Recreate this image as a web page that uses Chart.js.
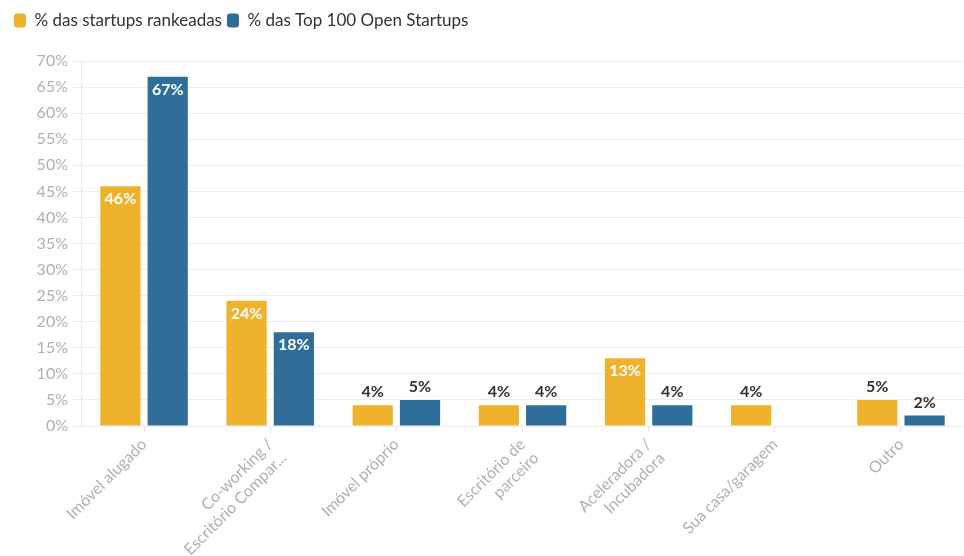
<!DOCTYPE html>
<html>
<head>
<meta charset="utf-8">
<script src="https://cdn.jsdelivr.net/npm/chart.js@4/dist/chart.umd.min.js"></script>
<style>
  html, body { margin: 0; padding: 0; background: #ffffff; }
  #wrap { width: 964px; height: 556px; position: relative; }
</style>
</head>
<body>
<div id="wrap"><canvas id="chart"></canvas></div>
<script>
// Local de trabalho das startups
const categories = [
  'Imóvel alugado',
  ['Co-working /', 'Escritório Compar...'],
  'Imóvel próprio',
  ['Escritório de', 'parceiro'],
  ['Aceleradora /', 'Incubadora'],
  'Sua casa/garagem',
  'Outro'
];
const seriesNames = ['% das startups rankeadas', '% das Top 100 Open Startups'];
const rankeadas = [46, 24, 4, 4, 13, 4, 5];
const top100 = [67, 18, 5, 4, 4, 0, 2];
const yTicks = [0, 5, 10, 15, 20, 25, 30, 35, 40, 45, 50, 55, 60, 65, 70];

const YELLOW = '#EEB22D';
const BLUE = '#2F6E99';

// Value labels: inside the top of tall bars, above short ones
const valueLabels = {
  id: 'valueLabels',
  afterDatasetsDraw(chart) {
    const ctx = chart.ctx;
    ctx.save();
    ctx.font = 'bold 16px Lato';
    ctx.textAlign = 'center';
    chart.data.datasets.forEach((ds, i) => {
      const meta = chart.getDatasetMeta(i);
      meta.data.forEach((bar, j) => {
        const v = ds.data[j];
        if (!v) return;
        const txt = v + '%';
        if (v >= 10) {
          ctx.fillStyle = '#ffffff';
          ctx.textBaseline = 'top';
          ctx.fillText(txt, bar.x, bar.y + 5);
        } else {
          ctx.fillStyle = '#333333';
          ctx.textBaseline = 'bottom';
          ctx.fillText(txt, bar.x, bar.y - 5);
        }
      });
    });
    ctx.restore();
  }
};

// Extra room between the legend and the plot
const legendSpace = {
  id: 'legendSpace',
  beforeInit(chart) {
    const legend = chart.legend;
    const fit = legend.fit;
    legend.fit = function () {
      fit.call(this);
      this.height = 54;
    };
  }
};

new Chart(document.getElementById('chart'), {
  type: 'bar',
  data: {
    labels: categories,
    datasets: [
      { label: seriesNames[0], data: rankeadas, backgroundColor: YELLOW },
      { label: seriesNames[1], data: top100, backgroundColor: BLUE }
    ]
  },
  options: {
    responsive: true,
    maintainAspectRatio: false,
    animation: false,
    layout: { padding: { left: 9, right: 0, top: 7, bottom: 0 } },
    datasets: {
      bar: { categoryPercentage: 0.75, barPercentage: 0.85 }
    },
    plugins: {
      legend: {
        position: 'top',
        align: 'start',
        labels: {
          boxWidth: 12,
          boxHeight: 14,
          padding: 5,
          color: '#333333',
          font: { family: 'Lato', size: 17 },
          useBorderRadius: true,
          borderRadius: 3
        }
      },
      tooltip: { enabled: false }
    },
    scales: {
      x: {
        afterFit(axis) { axis.height = 130; },
        grid: {
          display: true,
          drawOnChartArea: false,
          offset: false,
          tickLength: 7,
          color: '#e3e3e3'
        },
        border: { display: false },
        ticks: {
          minRotation: 45,
          maxRotation: 45,
          autoSkip: false,
          color: '#b0b0b0',
          font: { family: 'Lato', size: 16 },
          padding: 2
        }
      },
      y: {
        min: 0,
        max: 70,
        afterFit(axis) { axis.width = 72; },
        afterBuildTicks(axis) {
          axis.ticks = yTicks.map(v => ({ value: v }));
        },
        grid: { color: '#ececec', tickLength: 9 },
        border: { display: true, color: '#ececec' },
        ticks: {
          color: '#b0b0b0',
          padding: 4,
          font: { family: 'Lato', size: 16 },
          callback: v => v + '%'
        }
      }
    }
  },
  plugins: [valueLabels, legendSpace]
});
</script>
</body>
</html>
